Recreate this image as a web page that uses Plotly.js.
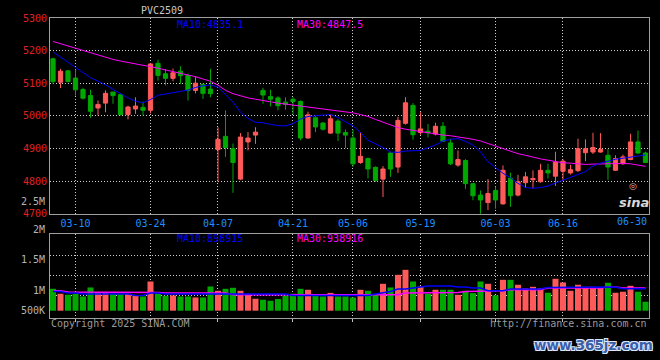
<!DOCTYPE html>
<html><head><meta charset="utf-8">
<script src="https://cdn.plot.ly/plotly-3.0.1.min.js"></script>
<style>html,body{margin:0;padding:0;background:#000;}#chart{width:660px;height:360px;}</style>
</head><body><div id="chart"></div>
<script>
const symbol = 'PVC2509';
const dates = ['03-05','03-06','03-07','03-10','03-11','03-12','03-13','03-14','03-17','03-18',
 '03-19','03-20','03-21','03-24','03-25','03-26','03-27','03-28','03-31','04-01',
 '04-02','04-03','04-07','04-08','04-09','04-10','04-11','04-14','04-15','04-16',
 '04-17','04-18','04-21','04-22','04-23','04-24','04-25','04-28','04-29','04-30',
 '05-06','05-07','05-08','05-09','05-12','05-13','05-14','05-15','05-16','05-19',
 '05-20','05-21','05-22','05-23','05-26','05-27','05-28','05-29','05-30','06-03',
 '06-04','06-05','06-06','06-09','06-10','06-11','06-12','06-13','06-16','06-17',
 '06-18','06-19','06-20','06-23','06-24','06-25','06-26','06-27','06-30','07-01'];
const open = [5175,5103,5138,5116,5081,5062,5024,5039,5073,5065,
 5004,5021,5026,5017,5161,5129,5115,5137,5124,5078,
 5096,5082,4897,4937,4899,4806,4920,4941,5078,5059,
 5055,5042,5051,5044,4932,4994,4978,4947,4984,4949,
 4932,4857,4869,4842,4806,4886,4843,4977,5032,4949,
 4953,4944,4968,4917,4849,4863,4792,4757,4734,4771,
 4730,4809,4757,4795,4804,4798,4833,4815,4830,4825,
 4832,4887,4889,4889,4879,4833,4853,4866,4920,4886];
const high = [5178,5144,5140,5142,5086,5080,5047,5078,5073,5068,
 5031,5057,5044,5161,5172,5144,5145,5152,5129,5120,
 5100,5144,4965,5017,4915,4947,4950,4965,5086,5080,
 5060,5057,5057,5047,5013,5000,4980,5004,4990,4958,
 4958,4950,4872,4845,4846,4890,4997,5057,5039,5011,
 4975,4979,4981,4930,4894,4867,4794,4771,4806,4783,
 4848,4826,4819,4828,4833,4853,4853,4890,4867,4850,
 4930,4928,4948,4947,4898,4879,4881,4945,4955,4890];
const low = [5098,5085,5103,5062,5050,4994,5001,5011,5037,5001,
 4989,5006,5001,5008,5108,5093,5106,5098,5047,5069,
 5052,5057,4797,4874,4764,4803,4894,4914,5037,5029,
 5017,5019,5004,4925,4930,4950,4955,4945,4923,4901,
 4843,4853,4808,4797,4751,4813,4825,4973,4927,4942,
 4934,4940,4920,4849,4844,4776,4741,4698,4711,4715,
 4728,4721,4753,4779,4778,4795,4808,4785,4800,4820,
 4828,4861,4883,4887,4804,4831,4850,4864,4884,4855];
const close = [5105,5137,5105,5080,5054,5014,5035,5069,5062,5004,
 5027,5030,5017,5159,5124,5115,5132,5123,5078,5100,
 5069,5068,4928,4903,4857,4935,4932,4950,5064,5051,
 5031,5035,5044,4932,5003,4966,4959,4991,4947,4941,
 4853,4876,4837,4802,4837,4837,4986,5040,4942,4960,
 4948,4968,4922,4853,4866,4792,4755,4742,4762,4742,
 4833,4755,4798,4813,4808,4833,4825,4858,4861,4835,
 4899,4899,4903,4897,4843,4869,4874,4920,4886,4857];
const ma10 = [5196,5180,5165,5150,5133,5117,5106,5095,5081,5068,
 5055,5045,5040,5050,5063,5067,5072,5075,5079,5087,
 5092,5095,5088,5066,5042,5011,4992,4980,4979,4974,
 4970,4969,4976,4990,4998,5000,5001,5004,4995,4983,
 4969,4949,4925,4914,4903,4889,4888,4892,4893,4894,
 4902,4911,4923,4928,4930,4922,4910,4890,4859,4841,
 4824,4810,4793,4780,4778,4780,4785,4794,4803,4811,
 4820,4829,4846,4855,4861,4867,4870,4873,4877,4880];
const ma30 = [5228,5221,5214,5208,5201,5194,5187,5179,5173,5168,
 5163,5159,5155,5151,5146,5142,5137,5132,5126,5120,
 5113,5106,5094,5078,5068,5061,5055,5051,5046,5043,
 5039,5036,5033,5029,5026,5024,5021,5019,5016,5013,
 5009,5004,4998,4989,4980,4971,4964,4959,4955,4951,
 4947,4943,4941,4939,4936,4932,4928,4923,4915,4907,
 4900,4892,4884,4879,4873,4868,4864,4860,4856,4855,
 4853,4851,4852,4853,4854,4855,4854,4853,4848,4845];
const volume = [930000,833000,813000,830000,780000,956000,865000,865000,833000,833000,
 833000,800000,780000,1073000,833000,793000,800000,780000,780000,760000,
 760000,975000,891000,930000,950000,891000,833000,735000,715000,696000,
 729000,793000,833000,930000,911000,793000,780000,850000,780000,780000,
 760000,911000,891000,833000,1028000,956000,1204000,1302000,1073000,975000,
 833000,911000,911000,911000,813000,891000,846000,1073000,1028000,800000,
 1106000,1106000,1009000,943000,969000,943000,852000,1126000,1054000,891000,
 1009000,969000,969000,956000,1048000,852000,872000,989000,872000,676000];
const volMa10 = [877000,877000,846000,846000,827000,827000,827000,827000,827000,827000,
 827000,799000,799000,846000,846000,827000,827000,827000,827000,813000,
 813000,813000,813000,813000,813000,813000,813000,813000,827000,827000,
 827000,827000,799000,799000,799000,799000,799000,799000,799000,799000,
 799000,799000,799000,827000,846000,877000,924000,924000,944000,969000,
 983000,983000,983000,983000,964000,964000,944000,944000,891000,891000,
 891000,924000,924000,924000,924000,924000,956000,956000,956000,964000,
 964000,956000,956000,964000,964000,964000,930000,930000,930000,930000];
const volMa30 = [891000,891000,866000,866000,866000,866000,866000,866000,866000,866000,
 866000,866000,866000,858000,858000,846000,846000,846000,846000,846000,
 846000,846000,846000,846000,813000,813000,813000,813000,799000,799000,
 799000,799000,799000,799000,799000,799000,799000,799000,799000,799000,
 799000,799000,799000,799000,799000,813000,813000,846000,846000,858000,
 858000,858000,858000,858000,858000,877000,877000,877000,891000,891000,
 891000,911000,911000,911000,911000,911000,944000,944000,944000,944000,
 944000,944000,944000,944000,964000,964000,944000,944000,944000,944000];
const xTickDates = ['03-10','03-24','04-07','04-21','05-06','05-19','06-03','06-16'];
const lastTickDate = '06-30';
const priceTicks = [4700,4800,4900,5000,5100,5200,5300];
const volGridVals = [1589000,1198000,807000];
const volLabelVals = [2651000,2084000,1503000,897000,500000];
const volLabelText = ['2.5M','2M','1.5M','1M','500K'];
const priceMa10Label = 'MA10:4835.1';
const priceMa30Label = 'MA30:4847.5';
const volMa10Label = 'MA10:898915';
const volMa30Label = 'MA30:938916';
const copyrightText = 'Copyright 2025 SINA.COM';
const urlText = 'http://finance.sina.com.cn';
const watermarkText = 'www.365jz.com';

// ---- styling / layout ----
const RED = '#ff5a5a', GREEN = '#00a800', BLUE = '#0000ff', MAG = '#ff00ff';
const FRAME = '#a0a0a0', GRID = '#d0d0d0', DASH = '1px,2px';
const MONO = 'DejaVu Sans Mono';
const W = 660, H = 360, ML = 50, MR = 11, MT = 17.5, MB = 41.7;
const PW = W - ML - MR, PH = H - MT - MB;
const px2x = p => (p - ML) / PW;
const py2y = p => (H - MB - p) / PH;
const mainDomain = [py2y(213.7), 1];
const volDomain = [0, py2y(234.3)];
const volBase = 500000;
const volRange = [357200, 2000000];
const volPaper = v => volDomain[0] + (v - volRange[0]) / (volRange[1] - volRange[0]) * (volDomain[1] - volDomain[0]);

const volColors = close.map((c, i) => c >= open[i] ? RED : GREEN);

const traces = [
  {type:'candlestick', x:dates, open:open, high:high, low:low, close:close,
   xaxis:'x', yaxis:'y', whiskerwidth:0, hoverinfo:'skip',
   increasing:{line:{color:RED, width:1}, fillcolor:RED},
   decreasing:{line:{color:GREEN, width:1}, fillcolor:GREEN}},
  {type:'scatter', mode:'lines', x:dates, y:ma30, xaxis:'x', yaxis:'y', line:{color:MAG, width:1}, hoverinfo:'skip'},
  {type:'scatter', mode:'lines', x:dates, y:ma10, xaxis:'x', yaxis:'y', line:{color:BLUE, width:1}, hoverinfo:'skip'},
  {type:'bar', x:dates, y:volume.map(v => v - volBase), base:volBase, xaxis:'x2', yaxis:'y2',
   marker:{color:volColors, line:{width:0}}, hoverinfo:'skip'},
  {type:'scatter', mode:'lines', x:dates, y:volMa30, xaxis:'x2', yaxis:'y2', line:{color:MAG, width:1.5}, hoverinfo:'skip'},
  {type:'scatter', mode:'lines', x:dates, y:volMa10, xaxis:'x2', yaxis:'y2', line:{color:BLUE, width:1.5}, hoverinfo:'skip'}
];

const monoFont = (size, color) => ({family:MONO, size:size, color:color});
const ann = [];
ann.push({text:priceMa10Label, xref:'paper', yref:'paper', x:px2x(175), y:py2y(24), xanchor:'left', yanchor:'middle', showarrow:false, font:monoFont(10, BLUE)});
ann.push({text:priceMa30Label, xref:'paper', yref:'paper', x:px2x(294.7), y:py2y(24), xanchor:'left', yanchor:'middle', showarrow:false, font:monoFont(10, MAG)});
ann.push({text:volMa10Label, xref:'paper', yref:'paper', x:px2x(175), y:py2y(239), xanchor:'left', yanchor:'middle', showarrow:false, font:monoFont(10, BLUE)});
ann.push({text:volMa30Label, xref:'paper', yref:'paper', x:px2x(295), y:py2y(239), xanchor:'left', yanchor:'middle', showarrow:false, font:monoFont(10, MAG)});
volLabelText.forEach((t, i) => ann.push({text:t, xref:'paper', yref:'paper', x:px2x(47), y:volPaper(volLabelVals[i]), xanchor:'right', yanchor:'middle', showarrow:false, font:monoFont(10, '#b4b4b4')}));
ann.push({text:lastTickDate, xref:'paper', yref:'paper', x:px2x(649), y:py2y(221.7), xanchor:'right', yanchor:'middle', showarrow:false, font:monoFont(10, '#1e8fff')});
ann.push({text:copyrightText, xref:'paper', yref:'paper', x:px2x(49), y:py2y(323.7), xanchor:'left', yanchor:'middle', showarrow:false, font:monoFont(10, '#9a9a9a')});
ann.push({text:urlText, xref:'paper', yref:'paper', x:px2x(649), y:py2y(323.7), xanchor:'right', yanchor:'middle', showarrow:false, font:monoFont(10, '#9a9a9a')});
ann.push({text:'<b><i>sina</i></b>', xref:'paper', yref:'paper', x:px2x(651), y:py2y(202), xanchor:'right', yanchor:'middle', showarrow:false, font:{family:'DejaVu Sans', size:13, color:'#d8d8d8'}});
ann.push({text:'◎', xref:'paper', yref:'paper', x:px2x(633), y:py2y(186), xanchor:'center', yanchor:'middle', showarrow:false, font:{family:'DejaVu Sans', size:9, color:'#f0a8a8'}});
ann.push({text:'<b>' + watermarkText + '</b>', xref:'paper', yref:'paper', x:px2x(593), y:py2y(345), xanchor:'center', yanchor:'middle', showarrow:false,
  font:{family:'DejaVu Sans', size:13.5, color:'#3a5ea8', shadow:'1px 1px 0 #dde6ff, -1px -1px 0 #dde6ff, 1px -1px 0 #dde6ff, -1px 1px 0 #dde6ff'}});

const layout = {
  width:W, height:H, margin:{l:ML, r:MR, t:MT, b:MB, pad:0},
  paper_bgcolor:'#000', plot_bgcolor:'#000', showlegend:false,
  boxgap:0.2, bargap:0.2,
  title:{text:symbol, x:162/W, xanchor:'center', y:1 - 10.3/H, yanchor:'middle', font:monoFont(10, '#c8c8c8')},
  xaxis:{type:'category', domain:[0,1], range:[-0.4, 79.47], anchor:'y', rangeslider:{visible:false},
    tickmode:'array', tickvals:xTickDates, ticktext:xTickDates, ticks:'', tickfont:monoFont(10, '#1e8fff'),
    showgrid:true, gridcolor:GRID, griddash:DASH, gridwidth:1, showline:true, linecolor:FRAME, linewidth:1, mirror:true, zeroline:false, fixedrange:true},
  yaxis:{domain:mainDomain, range:[4700,5300], anchor:'x', tickmode:'array', tickvals:priceTicks, ticktext:priceTicks.map(String),
    ticks:'', tickfont:monoFont(10, '#e02020'), showgrid:true, gridcolor:GRID, griddash:DASH, gridwidth:1,
    showline:true, linecolor:FRAME, linewidth:1, mirror:true, zeroline:false, fixedrange:true},
  xaxis2:{type:'category', matches:'x', anchor:'y2', domain:[0,1], tickmode:'array', tickvals:xTickDates, showticklabels:false,
    ticks:'outside', ticklen:3, tickcolor:'#c0c0c0', showgrid:true, gridcolor:GRID, griddash:DASH, gridwidth:1,
    showline:true, linecolor:FRAME, linewidth:1, mirror:true, zeroline:false, fixedrange:true},
  yaxis2:{domain:volDomain, range:volRange, anchor:'x2', tickmode:'array', tickvals:volGridVals, showticklabels:false, ticks:'',
    showgrid:true, gridcolor:GRID, griddash:DASH, gridwidth:1, showline:true, linecolor:FRAME, linewidth:1, mirror:true, zeroline:false, fixedrange:true},
  annotations:ann
};

Plotly.newPlot('chart', traces, layout, {staticPlot:true, displayModeBar:false});
</script></body></html>
